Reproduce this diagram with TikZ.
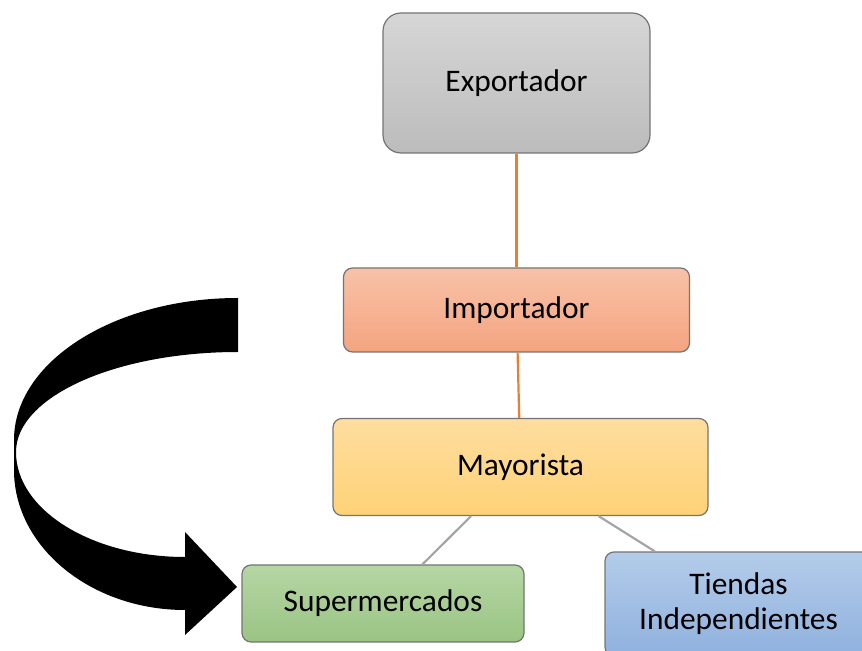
\documentclass[tikz,border=0pt]{standalone}
\usepackage{fontspec}
\setmainfont{Carlito}

\definecolor{exptop}{HTML}{D6D6D6}
\definecolor{expbot}{HTML}{BCBCBC}
\definecolor{imptop}{HTML}{F8C2A8}
\definecolor{impbot}{HTML}{F4A47F}
\definecolor{maytop}{HTML}{FEDD9F}
\definecolor{maybot}{HTML}{FED277}
\definecolor{suptop}{HTML}{B6D6A4}
\definecolor{supbot}{HTML}{9AC484}
\definecolor{tietop}{HTML}{B4CCEA}
\definecolor{tiebot}{HTML}{8FB1DE}
\definecolor{linkorange}{HTML}{ED7D31}
\definecolor{linkgray}{HTML}{A5A5A5}
\definecolor{edge}{HTML}{747474}

\begin{document}
\begin{tikzpicture}[x=0.5pt, y=-0.5pt,
    box/.style={rectangle, rounded corners=4.5pt, draw=edge, line width=0.6pt,
                inner sep=0pt, align=center, font=\fontsize{15.7}{17.5}\selectfont},
    orangelink/.style={linkorange, line width=1.1pt},
    graylink/.style={linkgray, line width=1.1pt}]
        % Fix the page to the size of the original picture
        \useasboundingbox (0,0) rectangle (862,651);
        \clip (0,0) rectangle (862,651);

        % Draw the boxes of the chain (sizes in pt, half the pixel size)
        \node[box, rounded corners=9pt, top color=exptop, bottom color=expbot,
              minimum width=133.5pt, minimum height=70pt] (exp) at (516.5,83) {Exportador};
        \node[box, top color=imptop, bottom color=impbot,
              minimum width=173pt, minimum height=42pt] (imp) at (516.5,310) {Importador};
        \node[box, top color=maytop, bottom color=maybot,
              minimum width=187.5pt, minimum height=48.5pt] (may) at (520.5,467) {Mayorista};
        \node[box, top color=suptop, bottom color=supbot,
              minimum width=141pt, minimum height=38.5pt] (sup) at (383,603.5) {Supermercados};
        \node[box, top color=tietop, bottom color=tiebot,
              minimum width=133.5pt, minimum height=52pt] (tie) at (738.5,604) {Tiendas\\Independientes};

        % Draw the links between the boxes
        \draw[orangelink] (exp) -- (imp);
        \draw[orangelink] (imp) -- (may);
        \draw[graylink] (may) -- (sup);
        \draw[graylink] (may) -- (tie);

        % Draw the big curved arrow pointing at the supermarkets
        \fill[black] (238,298) .. controls (114,298) and (14,362) .. (14,440)
            -- (14,470) .. controls (14,547) and (91,610) .. (185,610)
            -- (185,635) -- (237,587) -- (185,532) -- (185,557)
            .. controls (92,557) and (16,510) .. (16,452)
            .. controls (16,397) and (115,352) .. (238,352) -- cycle;
    \end{tikzpicture}
\end{document}
